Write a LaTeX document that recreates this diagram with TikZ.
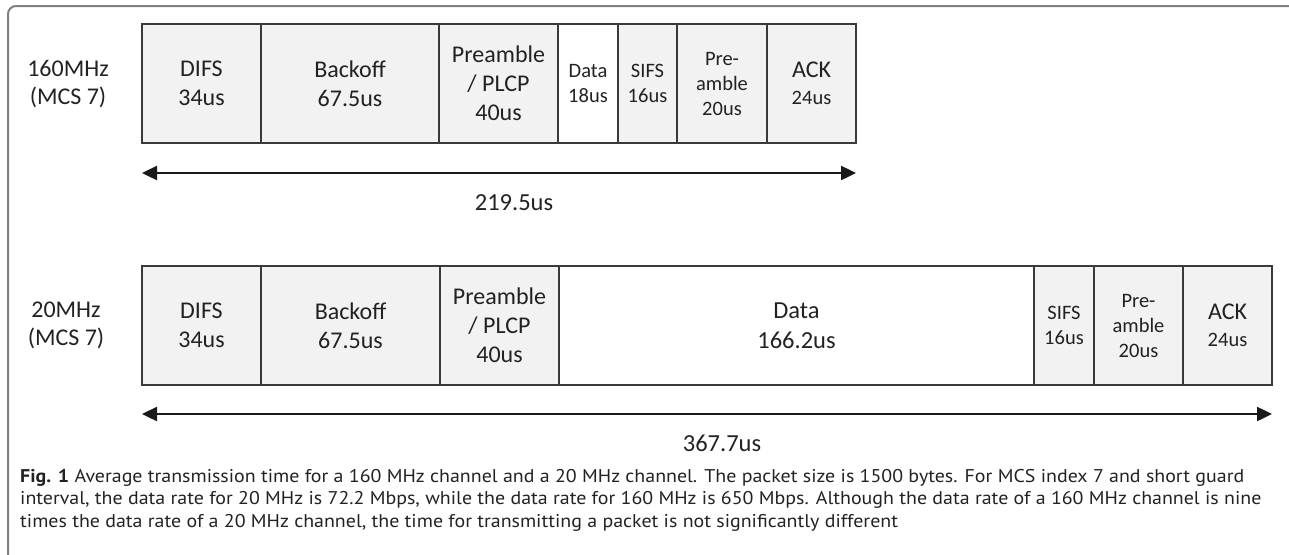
\documentclass[tikz,border=0pt]{standalone}
\usepackage{fontspec}
\setmainfont{Carlito}
\newfontfamily\capfont[FakeStretch=1.08]{PT Sans}
\usetikzlibrary{arrows.meta}
\definecolor{segfill}{HTML}{F2F2F2}
\definecolor{segline}{HTML}{3A3A3A}
\definecolor{frameline}{HTML}{808080}
\definecolor{txt}{HTML}{222222}
\begin{document}
\begin{tikzpicture}[x=1pt,y=-1pt,
  seg/.style={draw=segline, fill=segfill, line width=1.3pt, minimum height=119pt,
    inner sep=0pt, align=center, text=txt, font=\fontsize{24}{29}\selectfont},
  segwhite/.style={seg, fill=white},
  small/.style={font=\fontsize{20.5}{25}\selectfont},
  rowlabel/.style={align=center, text=txt, font=\fontsize{24}{28}\selectfont},
  spanlabel/.style={text=txt, font=\fontsize{24.5}{29}\selectfont},
  span/.style={line width=2.4pt, draw=black!90, {Triangle[length=15pt,width=14pt]}-{Triangle[length=15pt,width=14pt]}},
  capline/.style={anchor=base west, inner sep=0pt, text=txt, font=\capfont\fontsize{18.45}{22}\selectfont}
]
\useasboundingbox (0,0) rectangle (1289,554);
% frame
\draw[frameline, line width=2pt, rounded corners=8pt] (8,560) -- (8,6) -- (1295,6);

% ---- 160 MHz row ----
\node[rowlabel] (l160) at (68,84) {160MHz\\(MCS 7)};
\node[seg, minimum width=119pt] (a1) at (201.5,83.5) {DIFS\\34us};
\node[seg, minimum width=178pt] (a2) at (350,83.5) {Backoff\\67.5us};
\node[seg, minimum width=119pt] (a3) at (498.5,83.5) {Preamble\\/ PLCP\\40us};
\node[segwhite, small, minimum width=60pt] (a4) at (588,83.5) {Data\\18us};
\node[seg, small, minimum width=59pt] (a5) at (647.5,83.5) {SIFS\\16us};
\node[seg, small, minimum width=90pt] (a6) at (722,83.5) {Pre-\\amble\\20us};
\node[seg, minimum width=89pt] (a7) at (811.5,83.5) {ACK\\[-2pt]{\fontsize{20.5}{25}\selectfont 24us}};
\coordinate (s1l) at (142,173);
\coordinate (s1r) at (856,173);
\draw[span] (s1l) -- (s1r);
\node[spanlabel] (t1) at (514,203) {219.5us};

% ---- 20 MHz row ----
\node[rowlabel] (l20) at (66,325.5) {20MHz\\(MCS 7)};
\node[seg, minimum width=119pt] (b1) at (201.5,325.5) {DIFS\\34us};
\node[seg, minimum width=179pt] (b2) at (350.5,325.5) {Backoff\\67.5us};
\node[seg, minimum width=119pt] (b3) at (499.5,325.5) {Preamble\\/ PLCP\\40us};
\node[segwhite, font=\fontsize{24.5}{30}\selectfont, minimum width=475pt] (b4) at (796.5,325.5) {Data\\166.2us};
\node[seg, small, minimum width=60pt] (b5) at (1064,325.5) {SIFS\\16us};
\node[seg, small, minimum width=89pt] (b6) at (1138.5,325.5) {Pre-\\amble\\20us};
\node[seg, minimum width=89pt] (b7) at (1227.5,325.5) {ACK\\[-2pt]{\fontsize{20.5}{25}\selectfont 24us}};
\coordinate (s2l) at (142,414);
\coordinate (s2r) at (1272,414);
\draw[span] (s2l) -- (s2r);
\node[spanlabel] (t2) at (722,443) {367.7us};

% ---- caption ----
\node[capline] (c1) at (20,482) {\textbf{Fig. 1} Average transmission time for a 160 MHz channel and a 20 MHz channel. The packet size is 1500 bytes. For MCS index 7 and short guard};
\node[capline] (c2) at (20,504.5) {interval, the data rate for 20 MHz is 72.2 Mbps, while the data rate for 160 MHz is 650 Mbps. Although the data rate of a 160 MHz channel is nine};
\node[capline] (c3) at (20,527) {times the data rate of a 20 MHz channel, the time for transmitting a packet is not significantly different};
\end{tikzpicture}
\end{document}
